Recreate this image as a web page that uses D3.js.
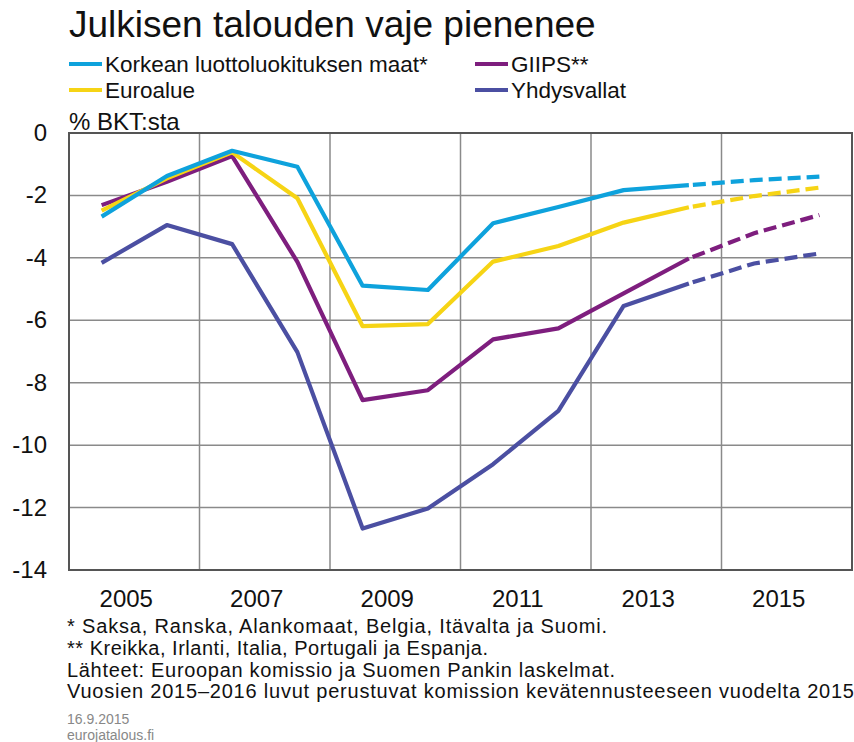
<!DOCTYPE html>
<html>
<head>
<meta charset="utf-8">
<script src="https://cdn.jsdelivr.net/npm/d3@7"></script>
<style>
  body { margin: 0; background: #fff; }
  svg { font-family: "Liberation Sans", Arial, sans-serif; display: block; }
</style>
</head>
<body>
<script>
// values, % of GDP
const years = [2005, 2006, 2007, 2008, 2009, 2010, 2011, 2012, 2013, 2014, 2015, 2016];
const korkea = [-2.68, -1.38, -0.57, -1.08, -4.89, -5.03, -2.89, -2.37, -1.83, -1.67, -1.51, -1.40];
const euroalue = [-2.49, -1.45, -0.62, -2.09, -6.19, -6.12, -4.12, -3.62, -2.87, -2.38, -2.02, -1.75];
const giips = [-2.31, -1.56, -0.74, -4.13, -8.56, -8.24, -6.61, -6.26, -5.14, -4.02, -3.21, -2.63];
const usa = [-4.16, -2.95, -3.56, -7.02, -12.67, -12.03, -10.61, -8.90, -5.54, -4.82, -4.18, -3.86];
const forecastFrom = 2014;
const xTickYears = [2005, 2007, 2009, 2011, 2013, 2015];
const yTicks = [0, -2, -4, -6, -8, -10, -12, -14];

const series = [
  {name: "Korkean luottoluokituksen maat*", values: korkea, color: "#0ea2dc"},
  {name: "Euroalue", values: euroalue, color: "#f6d415"},
  {name: "GIIPS**", values: giips, color: "#7e1e7e"},
  {name: "Yhdysvallat", values: usa, color: "#4b4fa2"}
];
// draw order: first on top in the original
const drawOrder = [3, 2, 1, 0];

const width = 854, height = 742;
const plot = {left: 69, right: 852, top: 133, bottom: 570};

const svg = d3.select("body").append("svg")
    .attr("width", width)
    .attr("height", height);

const x = d3.scaleBand()
    .domain(years)
    .range([plot.left, plot.right])
    .padding(0);
const y = d3.scaleLinear()
    .domain([-14, 0])
    .range([plot.bottom, plot.top]);
const cx = d => x(d) + x.bandwidth() / 2;

// title
svg.append("text")
    .attr("x", 69).attr("y", 37)
    .attr("font-size", 37)
    .attr("fill", "#111")
    .text("Julkisen talouden vaje pienenee");

// legend
const legendPos = [
  {lx: 69, ly: 64}, {lx: 69, ly: 90}, {lx: 475, ly: 64}, {lx: 475, ly: 90}
];
const legendOrder = [0, 1, 2, 3];
const leg = svg.append("g");
legendOrder.forEach((si, i) => {
  const p = legendPos[i];
  leg.append("line")
      .attr("x1", p.lx).attr("x2", p.lx + 33)
      .attr("y1", p.ly).attr("y2", p.ly)
      .attr("stroke", series[si].color)
      .attr("stroke-width", 4);
  leg.append("text")
      .attr("x", p.lx + 36).attr("y", p.ly + 8)
      .attr("font-size", 22.5)
      .attr("fill", "#111")
      .text(series[si].name);
});

svg.append("text")
    .attr("x", 69).attr("y", 130)
    .attr("font-size", 24)
    .attr("fill", "#111")
    .text("% BKT:sta");

// grid
const grid = svg.append("g");
grid.selectAll(".hgrid")
    .data(yTicks.filter(t => t !== 0 && t !== -14))
    .enter().append("line")
    .attr("x1", plot.left).attr("x2", plot.right)
    .attr("y1", d => y(d)).attr("y2", d => y(d))
    .attr("stroke", "#8a8a8a")
    .attr("stroke-width", 1.5);
grid.selectAll(".vgrid")
    .data(xTickYears.filter(d => d !== 2005))
    .enter().append("line")
    .attr("x1", d => x(d)).attr("x2", d => x(d))
    .attr("y1", plot.top).attr("y2", plot.bottom)
    .attr("stroke", "#8a8a8a")
    .attr("stroke-width", 1.5);

svg.append("rect")
    .attr("x", plot.left).attr("y", plot.top)
    .attr("width", plot.right - plot.left)
    .attr("height", plot.bottom - plot.top)
    .attr("fill", "none")
    .attr("stroke", "#555")
    .attr("stroke-width", 2);

// y labels
svg.append("g").selectAll("text")
    .data(yTicks)
    .enter().append("text")
    .attr("x", 47)
    .attr("y", d => y(d) + 8)
    .attr("text-anchor", "end")
    .attr("font-size", 24)
    .attr("fill", "#111")
    .text(d => d);

// x labels, centred on each two-year span
svg.append("g").selectAll("text")
    .data(xTickYears)
    .enter().append("text")
    .attr("x", d => x(d + 1) - 8)
    .attr("y", 607)
    .attr("text-anchor", "middle")
    .attr("font-size", 24)
    .attr("fill", "#111")
    .text(d => d);

// lines
const line = d3.line()
    .x(d => cx(d.year))
    .y(d => y(d.value));

drawOrder.forEach(si => {
  const s = series[si];
  const pts = years.map((yr, i) => ({year: yr, value: s.values[i]}));
  const solid = pts.filter(d => d.year <= forecastFrom);
  const dashed = pts.filter(d => d.year >= forecastFrom);
  svg.append("path")
      .datum(solid)
      .attr("d", line)
      .attr("fill", "none")
      .attr("stroke", s.color)
      .attr("stroke-width", 4.2)
      .attr("stroke-linejoin", "round");
  svg.append("path")
      .datum(dashed)
      .attr("d", line)
      .attr("fill", "none")
      .attr("stroke", s.color)
      .attr("stroke-width", 4.2)
      .attr("stroke-dasharray", "13,6")
      .attr("stroke-dashoffset", -4);
});

// notes
const notes = [
  {t: "*  Saksa, Ranska, Alankomaat, Belgia, Itävalta ja Suomi.", y: 633, w: 540},
  {t: "** Kreikka, Irlanti, Italia, Portugali ja Espanja.", y: 655, w: 421},
  {t: "Lähteet: Euroopan komissio ja Suomen Pankin laskelmat.", y: 677, w: 548},
  {t: "Vuosien 2015–2016 luvut perustuvat komission kevätennusteeseen vuodelta 2015", y: 698, w: 787}
];
svg.append("g").selectAll("text")
    .data(notes)
    .enter().append("text")
    .attr("x", 67)
    .attr("y", d => d.y)
    .attr("font-size", 20)
    .attr("fill", "#111")
    .attr("textLength", d => d.w)
    .attr("lengthAdjust", "spacing")
    .text(d => d.t);

svg.append("text")
    .attr("x", 67).attr("y", 724)
    .attr("font-size", 14)
    .attr("fill", "#888")
    .text("16.9.2015");
svg.append("text")
    .attr("x", 67).attr("y", 740)
    .attr("font-size", 14)
    .attr("fill", "#888")
    .text("eurojatalous.fi");
</script>
</body>
</html>
